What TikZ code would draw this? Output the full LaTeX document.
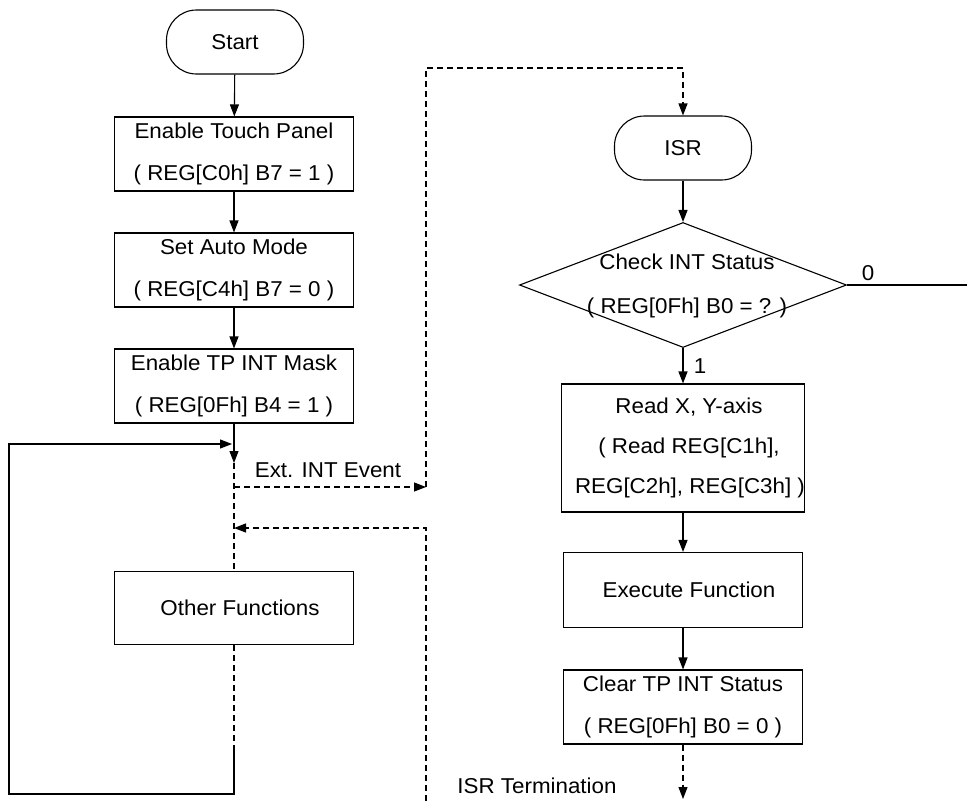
\documentclass[tikz,border=0pt]{standalone}
\usepackage{fontspec}
\setmainfont{Liberation Sans}[FakeStretch=1.04]
\usetikzlibrary{shapes.geometric,arrows.meta}

\begin{document}
\begin{tikzpicture}[x=1pt, y=-1pt, line width=1.1pt,
	every node/.style={font=\fontsize{21.5}{42}\selectfont, align=center, inner sep=0pt},
	term/.style={draw, rounded corners=30pt, minimum width=137pt, minimum height=64pt},
	box/.style={draw, minimum width=239pt, minimum height=74pt},
	dec/.style={draw, diamond, minimum width=327pt, minimum height=125pt},
	arr/.style={-{Triangle[length=12pt,width=9pt]}},
	dsh/.style={dash pattern=on 6pt off 4pt}]
\useasboundingbox (0,0) rectangle (967,801);

\node[term] (start) at (235, 42) {Start};
\node[box] (en) at (234, 154) {Enable Touch Panel\\( REG[C0h] B7 = 1 )};
\node[box] (mode) at (234, 270) {Set Auto Mode\\( REG[C4h] B7 = 0 )};
\node[box] (mask) at (234, 386) {Enable TP INT Mask\\( REG[0Fh] B4 = 1 )};
\node[box, minimum height=73pt] (other) at (234, 608) {\hspace*{12pt}Other Functions};

\node[term] (isr) at (683, 148) {ISR};
\node[dec] (chk) at (683, 285) {};
\node[font=\fontsize{21.5}{44}\selectfont] (chkt) at (687, 286) {Check INT Status\\( REG[0Fh] B0 = ? )};
\node[box, minimum height=128pt, font=\fontsize{21.5}{40}\selectfont] (rd) at (683, 448) {\hspace*{12pt}Read X, Y-axis\\\hspace*{12pt}( Read REG[C1h],\\\hspace*{14pt}REG[C2h], REG[C3h] )};
\node[box, minimum height=75pt] (exe) at (683, 590) {\hspace*{12pt}Execute Function};
\node[box] (clr) at (683, 707) {Clear TP INT Status\\( REG[0Fh] B0 = 0 )};

\node (ev) at (328, 470) {Ext. INT Event};
\node (term) at (537, 786) {ISR Termination};
\node (l0) at (868, 273) {0};
\node (l1) at (700, 366) {1};

\coordinate (e0) at (234, 463);
\coordinate (e1) at (234, 487);
\coordinate (e2) at (426, 487);
\coordinate (e3) at (426, 68);
\coordinate (e4) at (683, 68);
\coordinate (r0) at (426, 801);
\coordinate (r1) at (426, 528);
\coordinate (r2) at (234, 528);
\coordinate (b0) at (234, 750);
\coordinate (b1) at (234, 794);
\coordinate (b2) at (9, 794);
\coordinate (b3) at (9, 444);
\coordinate (b4) at (232, 444);
\coordinate (c0) at (967, 285);
\coordinate (t0) at (683, 799);

\draw[arr] (start) -- (en);
\draw[arr] (en) -- (mode);
\draw[arr] (mode) -- (mask);
\draw[arr] (mask) -- (e0);

\draw[dsh] (e0) -- (other);
\draw[dsh, arr] (e1) -- (e2);
\draw[dsh, arr] (e2) -- (e3) -- (e4) -- (isr);
\draw[dsh, arr] (r0) -- (r1) -- (r2);

\draw[dsh] (other) -- (b0);
\draw[arr] (b0) -- (b1) -- (b2) -- (b3) -- (b4);

\draw[arr] (isr) -- (chk);
\draw (chk.east) -- (c0);
\draw[arr] (chk) -- (rd);
\draw[arr] (rd) -- (exe);
\draw[arr] (exe) -- (clr);
\draw[dsh, arr] (clr) -- (t0);
\end{tikzpicture}
\end{document}
